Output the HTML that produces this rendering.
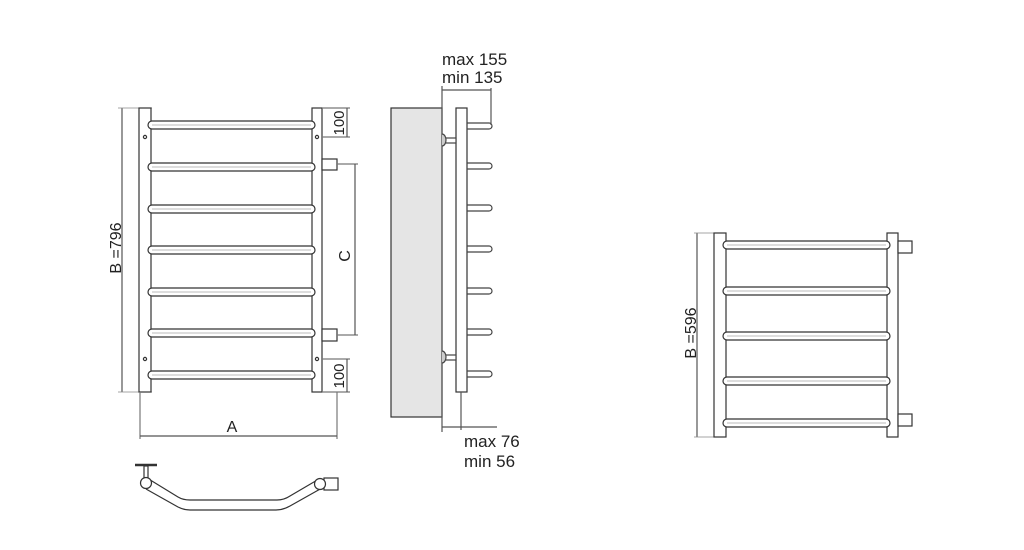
<!DOCTYPE html>
<html><head><style>body{margin:0;background:#fff}svg{display:block}text{font-family:"Liberation Sans Narrow","Liberation Sans",sans-serif;fill:#222}</style></head><body>
<svg width="1024" height="550" viewBox="0 0 1024 550" xmlns="http://www.w3.org/2000/svg" fill="none" stroke="#333" stroke-width="1.2">
<defs>
<g id="rail"><rect x="0" y="-4" width="167" height="8" rx="4" fill="#fff" stroke="#333" stroke-width="1.2"/><line x1="4" y1="0" x2="163" y2="0" stroke="#bbb" stroke-width="1"/></g>
</defs>
<!-- FRONT VIEW -->
<line x1="122" y1="108" x2="122" y2="392" stroke="#555"/>
<line x1="118" y1="108" x2="152" y2="108" stroke="#888" stroke-width="0.8"/>
<line x1="118" y1="392" x2="152" y2="392" stroke="#888" stroke-width="0.8"/>
<rect x="139" y="108" width="12" height="284" fill="#fff"/>
<rect x="312" y="108" width="10" height="284" fill="#fff"/>
<use href="#rail" x="148" y="125"/><use href="#rail" x="148" y="167"/><use href="#rail" x="148" y="209"/><use href="#rail" x="148" y="250"/><use href="#rail" x="148" y="292"/><use href="#rail" x="148" y="333"/><use href="#rail" x="148" y="375"/>
<circle cx="145" cy="137" r="1.6"/><circle cx="317" cy="137" r="1.6"/><circle cx="145" cy="359" r="1.6"/><circle cx="317" cy="359" r="1.6"/>
<rect x="322" y="159" width="15" height="11" fill="#fff"/>
<rect x="322" y="329" width="15" height="12" fill="#fff"/>
<line x1="337" y1="164" x2="358" y2="164" stroke="#777"/><line x1="337" y1="335" x2="358" y2="335" stroke="#777"/>
<line x1="355" y1="164" x2="355" y2="335" stroke="#555"/>
<text transform="translate(350,256) rotate(-90)" font-size="16" text-anchor="middle" stroke="none">C</text>
<line x1="322" y1="108" x2="350" y2="108" stroke="#777"/><line x1="322" y1="137" x2="350" y2="137" stroke="#777"/>
<line x1="347" y1="108" x2="347" y2="137" stroke="#555"/>
<text transform="translate(344,123) rotate(-90)" font-size="15" text-anchor="middle" stroke="none">100</text>
<line x1="322" y1="359" x2="350" y2="359" stroke="#777"/><line x1="322" y1="392" x2="350" y2="392" stroke="#777"/>
<line x1="347" y1="359" x2="347" y2="392" stroke="#555"/>
<text transform="translate(344,376) rotate(-90)" font-size="15" text-anchor="middle" stroke="none">100</text>
<text transform="translate(121,248) rotate(-90)" font-size="16" text-anchor="middle" stroke="none">B =796</text>
<line x1="140" y1="392" x2="140" y2="439" stroke="#777"/><line x1="337" y1="392" x2="337" y2="439" stroke="#777"/>
<line x1="140" y1="436" x2="337" y2="436" stroke="#555"/>
<text x="232" y="432" font-size="16" text-anchor="middle" stroke="none">A</text>
<!-- TOP VIEW -->
<line x1="135" y1="465" x2="157" y2="465" stroke="#333" stroke-width="2.5"/>
<rect x="144" y="466" width="4" height="13" fill="#fff"/>
<path d="M147 478 L178 497 Q183 500 190 500 L277 500 Q284 500 290 496 L319 479" stroke="#333" stroke-width="1.2"/>
<path d="M146 489 L178 507 Q184 510 190 510 L276 510 Q283 510 290 506 L322 488" stroke="#333" stroke-width="1.2"/>
<circle cx="146" cy="483" r="5.5" fill="#fff"/>
<rect x="324" y="478" width="14" height="12" fill="#fff"/>
<circle cx="320" cy="484" r="5.5" fill="#fff"/>
<!-- SIDE VIEW -->
<rect x="391" y="108" width="51" height="309" fill="#e5e5e5" stroke="#333"/>
<line x1="442" y1="86" x2="442" y2="432" stroke="#555"/>
<rect x="456" y="108" width="11" height="284" fill="#fff"/>
<g stroke="#444">
<path d="M467 123 H489 a3 3 0 0 1 0 6 H467"/><path d="M467 163 H489 a3 3 0 0 1 0 6 H467"/><path d="M467 205 H489 a3 3 0 0 1 0 6 H467"/><path d="M467 246 H489 a3 3 0 0 1 0 6 H467"/><path d="M467 288 H489 a3 3 0 0 1 0 6 H467"/><path d="M467 329 H489 a3 3 0 0 1 0 6 H467"/><path d="M467 371 H489 a3 3 0 0 1 0 6 H467"/>
<rect x="443" y="138" width="13" height="5" fill="#fff"/><path d="M442 134 a4 6 0 0 1 0 12" fill="#ccc"/>
<rect x="443" y="355" width="13" height="5" fill="#fff"/><path d="M442 351 a4 6 0 0 1 0 12" fill="#ccc"/>
</g>
<line x1="442" y1="90" x2="491" y2="90" stroke="#555"/><line x1="491" y1="88" x2="491" y2="125" stroke="#555"/>
<text x="442" y="65" font-size="17" stroke="none">max 155</text>
<text x="442" y="83" font-size="17" stroke="none">min 135</text>
<line x1="461" y1="392" x2="461" y2="430" stroke="#555"/>
<line x1="442" y1="427" x2="497" y2="427" stroke="#555"/>
<text x="464" y="447" font-size="17" stroke="none">max 76</text>
<text x="464" y="467" font-size="17" stroke="none">min 56</text>
<!-- RIGHT VIEW -->
<line x1="697" y1="233" x2="697" y2="437" stroke="#555"/>
<line x1="694" y1="233" x2="726" y2="233" stroke="#888" stroke-width="0.8"/><line x1="694" y1="437" x2="726" y2="437" stroke="#888" stroke-width="0.8"/>
<rect x="714" y="233" width="12" height="204" fill="#fff"/>
<rect x="887" y="233" width="11" height="204" fill="#fff"/>
<use href="#rail" x="723" y="245"/><use href="#rail" x="723" y="291"/><use href="#rail" x="723" y="336"/><use href="#rail" x="723" y="381"/><use href="#rail" x="723" y="423"/>
<rect x="898" y="241" width="14" height="12" fill="#fff"/>
<rect x="898" y="414" width="14" height="12" fill="#fff"/>
<text transform="translate(696,333) rotate(-90)" font-size="16" text-anchor="middle" stroke="none">B =596</text>
</svg>
</body></html>
